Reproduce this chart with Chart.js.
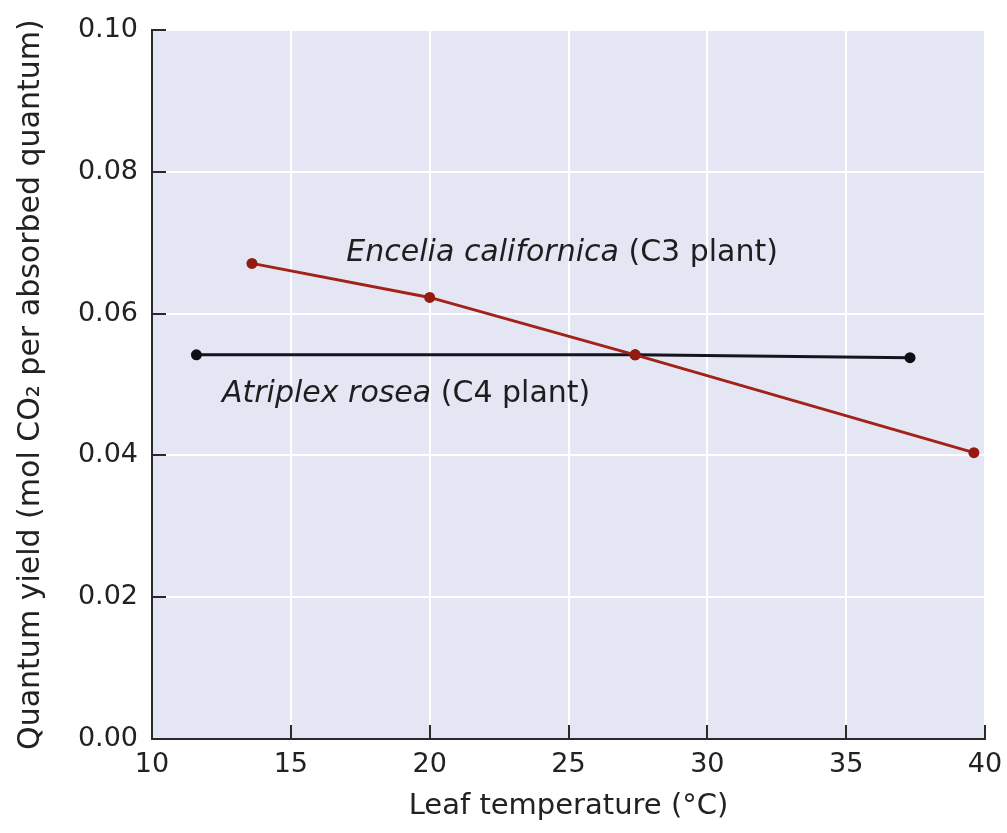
<!DOCTYPE html>
<html>
<head>
<meta charset="utf-8">
<script src="https://cdn.jsdelivr.net/npm/chart.js@4/dist/chart.umd.min.js"></script>
<style>
html,body{margin:0;padding:0;background:#fff;}
#wrap{width:1007px;height:833px;}
</style>
</head>
<body>
<div id="wrap"><canvas id="c" width="1007" height="833"></canvas></div>
<script>
// ---- data ----
const enceliaTemp = [13.6, 20.0, 27.4, 39.6];
const enceliaYield = [0.0671, 0.0623, 0.0542, 0.0404];
const atriplexTemp = [11.6, 27.4, 37.3];
const atriplexYield = [0.0542, 0.0542, 0.0538];
const xTicks = [10, 15, 20, 25, 30, 35, 40];
const yTicks = [0.00, 0.02, 0.04, 0.06, 0.08, 0.10];
const labels = [
  {species: 'Encelia californica', rest: ' (C3 plant)', x: 17.0, y: 0.0685},
  {species: 'Atriplex rosea', rest: ' (C4 plant)', x: 12.52, y: 0.0486}
];

const FONT = '"DejaVu Sans", "Open Sans", sans-serif';
const toPts = (xs, ys) => xs.map((x, i) => ({x, y: ys[i]}));

const bgPlugin = {
  id: 'bg',
  beforeDraw(chart) {
    const {ctx, chartArea: a} = chart;
    ctx.save();
    ctx.fillStyle = '#e4e6f4';
    ctx.fillRect(a.left, a.top, a.right - a.left, a.bottom - a.top);
    ctx.restore();
  }
};

const tickPlugin = {
  id: 'inTicks',
  afterDraw(chart) {
    const {ctx, chartArea: a, scales} = chart;
    ctx.save();
    ctx.strokeStyle = '#2a2a2a';
    ctx.lineWidth = 2;
    ctx.beginPath();
    xTicks.forEach(v => {
      const px = Math.round(scales.x.getPixelForValue(v));
      ctx.moveTo(px, a.bottom);
      ctx.lineTo(px, a.bottom - 14);
    });
    yTicks.forEach(v => {
      const py = Math.round(scales.y.getPixelForValue(v));
      ctx.moveTo(a.left, py);
      ctx.lineTo(a.left + 14, py);
    });
    ctx.stroke();
    // labels
    ctx.fillStyle = '#1e1e1e';
    ctx.textBaseline = 'middle';
    ctx.textAlign = 'left';
    labels.forEach(l => {
      let px = scales.x.getPixelForValue(l.x);
      const py = scales.y.getPixelForValue(l.y);
      ctx.font = 'italic 30px ' + FONT;
      ctx.fillText(l.species, px, py);
      px += ctx.measureText(l.species).width;
      ctx.font = '30px ' + FONT;
      ctx.fillText(l.rest, px, py);
    });
    ctx.restore();
  }
};

new Chart(document.getElementById('c'), {
  type: 'scatter',
  data: {
    datasets: [
      {
        label: 'Encelia californica (C3 plant)',
        data: toPts(enceliaTemp, enceliaYield),
        showLine: true,
        borderColor: '#a32218',
        backgroundColor: '#951a12',
        borderWidth: 3,
        pointRadius: 5.5,
        pointBorderWidth: 0
      },
      {
        label: 'Atriplex rosea (C4 plant)',
        data: toPts(atriplexTemp, atriplexYield),
        showLine: true,
        borderColor: '#14141e',
        backgroundColor: '#0e0e14',
        borderWidth: 3,
        pointRadius: 5.5,
        pointBorderWidth: 0
      }
    ]
  },
  options: {
    responsive: false,
    animation: false,
    devicePixelRatio: 1,
    layout: {padding: {top: 30, right: 22, left: 0, bottom: 0}},
    plugins: {legend: {display: false}, tooltip: {enabled: false}},
    scales: {
      x: {
        type: 'linear', min: 10, max: 40,
        afterBuildTicks: s => { s.ticks = xTicks.map(v => ({value: v})); },
        afterFit: s => { s.height = 94; s.paddingRight = 0; s.paddingLeft = 0; },
        ticks: {font: {size: 27, family: FONT}, color: '#222', padding: 10},
        grid: {color: '#ffffff', lineWidth: 2, drawTicks: false},
        border: {display: true, color: '#2a2a2a', width: 2},
        title: {display: true, text: 'Leaf temperature (°C)', font: {size: 29, family: FONT}, color: '#222', padding: {top: 0, bottom: 9}}
      },
      y: {
        type: 'linear', min: 0, max: 0.1,
        afterBuildTicks: s => { s.ticks = yTicks.map(v => ({value: v})); },
        afterFit: s => { s.width = 152; },
        ticks: {font: {size: 27, family: FONT}, color: '#222', padding: 14, callback: v => v.toFixed(2)},
        grid: {color: '#ffffff', lineWidth: 2, drawTicks: false},
        border: {display: true, color: '#2a2a2a', width: 2},
        title: {display: true, text: 'Quantum yield (mol CO₂ per absorbed quantum)', font: {size: 30, family: FONT}, color: '#222', padding: {top: 13, bottom: 0}}
      }
    }
  },
  plugins: [bgPlugin, tickPlugin]
});
</script>
</body>
</html>
